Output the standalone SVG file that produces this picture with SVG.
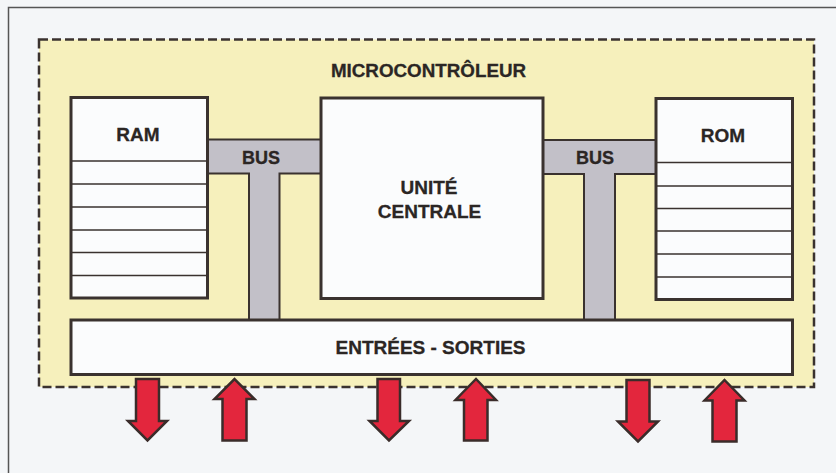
<svg xmlns="http://www.w3.org/2000/svg" width="836" height="473" viewBox="0 0 836 473">
<style>
.lbl{font-family:"Liberation Sans",Arial,sans-serif;font-weight:bold;fill:#2b2624;stroke:#2b2624;stroke-width:0.3;text-anchor:middle;}
.box{fill:#fbfcfd;stroke:#3a322f;stroke-width:3;}
.row{stroke:#3a322f;stroke-width:1.6;}
.bus{fill:#c2c0c8;stroke:#3a322f;stroke-width:2;}
.arr{fill:#e3263d;stroke:#3a2c2a;stroke-width:2.5;stroke-linejoin:miter;}
</style>
<rect x="0" y="0" width="836" height="473" fill="#f4f6f8"/>
<path d="M8.5,473 V7.5 H836" fill="none" stroke="#555" stroke-width="1.5"/>
<g id="microcontroleur">
<rect x="39" y="39.5" width="775" height="347.5" fill="#f6f0bc" stroke="#3a322f" stroke-width="2.5" stroke-dasharray="9,4"/>
<text class="lbl" x="428.5" y="77" font-size="18.8">MICROCONTRÔLEUR</text>
</g>
<g id="connectors">
<path class="bus" d="M207,139.5 H321 V173.5 H279.5 V320 H249 V173.5 H207 Z"/>
<path class="bus" d="M543,140 H656 V174 H615 V320 H584 V174 H543 Z"/>
<text class="lbl" x="261" y="163.5" font-size="18">BUS</text>
<text class="lbl" x="595" y="163.5" font-size="18">BUS</text>
</g>
<g id="ram">
<rect class="box" x="71" y="97.5" width="136.5" height="200.5"/>
<path class="row" d="M71,161 H207.5 M71,184 H207.5 M71,207 H207.5 M71,230 H207.5 M71,252.5 H207.5 M71,275.5 H207.5"/>
<text class="lbl" x="138" y="140.5" font-size="19">RAM</text>
</g>
<g id="unite-centrale">
<rect class="box" x="321" y="98" width="222" height="200.5"/>
<text class="lbl" x="429" y="194" font-size="19">UNITÉ</text>
<text class="lbl" x="429.5" y="218.3" font-size="19">CENTRALE</text>
</g>
<g id="rom">
<rect class="box" x="656" y="98.5" width="136.5" height="201"/>
<path class="row" d="M656,162.5 H792.5 M656,186 H792.5 M656,208.5 H792.5 M656,231 H792.5 M656,254 H792.5 M656,277 H792.5"/>
<text class="lbl" x="723" y="142" font-size="19">ROM</text>
</g>
<g id="entrees-sorties">
<rect class="box" x="71" y="320" width="721.5" height="54.5"/>
<text class="lbl" x="430.5" y="353.5" font-size="19">ENTRÉES - SORTIES</text>
</g>
<g id="arrows">
<path class="arr" d="M136,379 H159 V421 H167 L147.5,440.5 L128,421 H136 Z"/>
<path class="arr" d="M222.5,440.5 V399 H214.5 L234.5,379 L254.5,399 H246.5 V440.5 Z"/>
<path class="arr" d="M377.5,379 H400 V421 H409 L389,440.5 L369.5,421 H377.5 Z"/>
<path class="arr" d="M464,440.5 V400 H455.5 L476,379 L496,400 H487.5 V440.5 Z"/>
<path class="arr" d="M626.5,380 H649.5 V421.5 H658 L638,441.5 L618,421.5 H626.5 Z"/>
<path class="arr" d="M712.5,441.5 V400.5 H704.5 L724.5,380 L744.5,400.5 H736.5 V441.5 Z"/>
</g>
</svg>
